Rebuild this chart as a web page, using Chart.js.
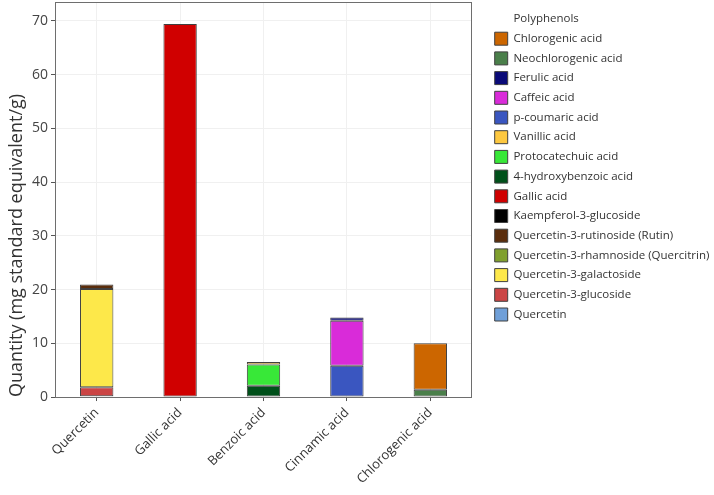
<!DOCTYPE html>
<html><head><meta charset="utf-8">
<script src="https://cdn.jsdelivr.net/npm/chart.js@4"></script>
<style>html,body{margin:0;padding:0;background:#fff}canvas{display:block}</style>
</head><body>
<canvas id="c" width="714" height="495"></canvas>
<script>
const categories = ['Quercetin', 'Gallic acid', 'Benzoic acid', 'Cinnamic acid', 'Chlorogenic acid'];

// series values (mg standard equivalent/g), one per category
const quercetin        = [0.15, null, null, null, null];
const q3glucoside      = [1.65, null, null, null, null];
const q3galactoside    = [18.3, null, null, null, null];
const quercitrin       = [null, null, null, null, null];
const rutin            = [0.85, null, null, null, null];
const kaempferol       = [null, null, null, null, null];
const gallic           = [null, 69.4, null, null, null];
const hydroxybenzoic   = [null, null, 2.1, null, null];
const protocatechuic   = [null, null, 3.95, null, null];
const vanillic         = [null, null, 0.45, null, null];
const pcoumaric        = [null, null, null, 5.8, null];
const caffeic          = [null, null, null, 8.4, null];
const ferulic          = [null, null, null, 0.6, null];
const neochlorogenic   = [null, null, null, null, 1.35];
const chlorogenic      = [null, null, null, null, 8.65];

const yTicks = [0, 10, 20, 30, 40, 50, 60, 70];

const seriesNames = ['Quercetin', 'Quercetin-3-glucoside', 'Quercetin-3-galactoside',
  'Quercetin-3-rhamnoside (Quercitrin)', 'Quercetin-3-rutinoside (Rutin)', 'Kaempferol-3-glucoside',
  'Gallic acid', '4-hydroxybenzoic acid', 'Protocatechuic acid', 'Vanillic acid',
  'p-coumaric acid', 'Caffeic acid', 'Ferulic acid', 'Neochlorogenic acid', 'Chlorogenic acid'];
const seriesValues = [quercetin, q3glucoside, q3galactoside, quercitrin, rutin, kaempferol,
  gallic, hydroxybenzoic, protocatechuic, vanillic, pcoumaric, caffeic, ferulic, neochlorogenic, chlorogenic];
const seriesColors = ['#6f9fd8', '#cb4545', '#fde84a', '#80a02e', '#5a2d0c', '#000000',
  '#d00000', '#00501a', '#38e838', '#fdc840', '#3a56c0', '#d92bd9', '#0a0a78', '#4a7f4a', '#cc6600'];

const FONT = "'Open Sans', 'Noto Sans', sans-serif";

const datasets = seriesNames.map((n, i) => ({
  label: n,
  data: seriesValues[i],
  backgroundColor: seriesColors[i],
  borderColor: '#404040',
  borderWidth: 1,
  borderSkipped: false,
  barPercentage: 0.4,
  categoryPercentage: 1.0
}));

const panelBorder = {
  id: 'panelBorder',
  afterDraw(chart) {
    const a = chart.chartArea, ctx = chart.ctx;
    ctx.save();
    ctx.strokeStyle = '#6e6e6e';
    ctx.lineWidth = 1;
    ctx.strokeRect(Math.round(a.left) + 0.5, Math.round(a.top) + 0.5,
      Math.round(a.right - a.left) - 1, Math.round(a.bottom - a.top));
    ctx.restore();
  }
};

const legendTitle = {
  id: 'legendTitle',
  afterDraw(chart) {
    const lg = chart.legend;
    if (!lg || !lg.legendHitBoxes || !lg.legendHitBoxes.length) return;
    const hb = lg.legendHitBoxes[0];
    const ctx = chart.ctx;
    ctx.save();
    ctx.font = '11.5px ' + FONT;
    ctx.fillStyle = '#333333';
    ctx.textBaseline = 'middle';
    ctx.textAlign = 'left';
    ctx.fillText('Polyphenols', hb.left + 13 + 5.75, 19);
    ctx.restore();
  }
};

new Chart(document.getElementById('c'), {
  type: 'bar',
  data: { labels: categories, datasets },
  plugins: [panelBorder, legendTitle],
  options: {
    responsive: false,
    animation: false,
    devicePixelRatio: 1,
    layout: { padding: { left: 3.4, top: 2, right: 0, bottom: 4 } },
    plugins: {
      tooltip: { enabled: false },
      legend: {
        position: 'right',
        align: 'start',
        reverse: true,
        maxWidth: 226,
        title: { display: true, text: '', font: { size: 11, family: FONT }, padding: { top: 10.3, bottom: 0 } },
        labels: {
          boxWidth: 13, boxHeight: 13, padding: 6.7,
          color: '#333333',
          font: { size: 11.5, family: FONT }
        }
      }
    },
    scales: {
      x: {
        stacked: true,
        offset: true,
        grid: { offset: false, color: '#f0f0f0', tickColor: '#555', tickLength: 4 },
        border: { display: false },
        ticks: { color: '#333333', font: { size: 13, family: FONT }, maxRotation: 45, minRotation: 45, padding: 4 }
      },
      y: {
        stacked: true,
        min: 0, max: 73.5,
        grid: { color: '#f0f0f0', tickColor: '#555', tickLength: 4 },
        border: { display: false },
        afterBuildTicks(s) { s.ticks = yTicks.map(v => ({ value: v })); },
        afterFit(s) { s.paddingTop = 0; },
        ticks: { color: '#444444', font: { size: 14, family: FONT }, padding: 3 },
        title: { display: true, text: 'Quantity (mg standard equivalent/g)', color: '#333333', align: 'start',
          font: { size: 18, family: FONT }, padding: { top: 3, bottom: 1 } }
      },
      gap: {
        type: 'linear', position: 'right', display: true,
        ticks: { display: false },
        grid: { display: false, drawTicks: false },
        border: { display: false },
        afterFit(s) { s.width = 16; }
      }
    }
  }
});
</script>
</body></html>
